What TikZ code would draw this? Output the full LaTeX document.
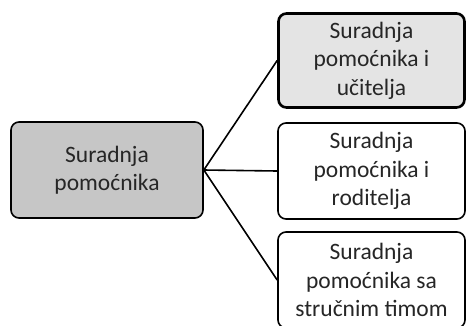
\documentclass[tikz,border=0pt]{standalone}
\usepackage{fontspec}
\setmainfont{Carlito}
\definecolor{boxgray}{HTML}{C6C6C6}
\definecolor{lightgray2}{HTML}{E4E4E4}
\begin{document}
\begin{tikzpicture}[x=1pt,y=-1pt,
  box/.style={draw=black, line width=1.6pt, rounded corners=8pt, align=center,
    inner sep=0pt, font=\fontsize{23.5}{28.5}\selectfont, text=black!85},
  link/.style={draw=black, line width=1.6pt}]
\clip (0,0) rectangle (466,325);
\node[box, fill=boxgray, minimum width=192pt, minimum height=96pt] (L) at (107,170) {Suradnja\\pomoćnika};
\node[box, fill=lightgray2, line width=2.6pt, minimum width=186pt, minimum height=94pt] (T) at (371.5,60.5) {Suradnja\\pomoćnika i\\učitelja};
\node[box, fill=white, minimum width=187pt, minimum height=96pt] (M) at (371.5,171) {Suradnja\\pomoćnika i\\roditelja};
\node[box, fill=white, minimum width=187pt, minimum height=96pt] (B) at (371.5,280) {Suradnja\\pomoćnika sa\\stručnim timom};
\draw[link] (L.east) -- (T.west);
\draw[link] (L.east) -- (M.west);
\draw[link] (L.east) -- (B.west);
\end{tikzpicture}
\end{document}
